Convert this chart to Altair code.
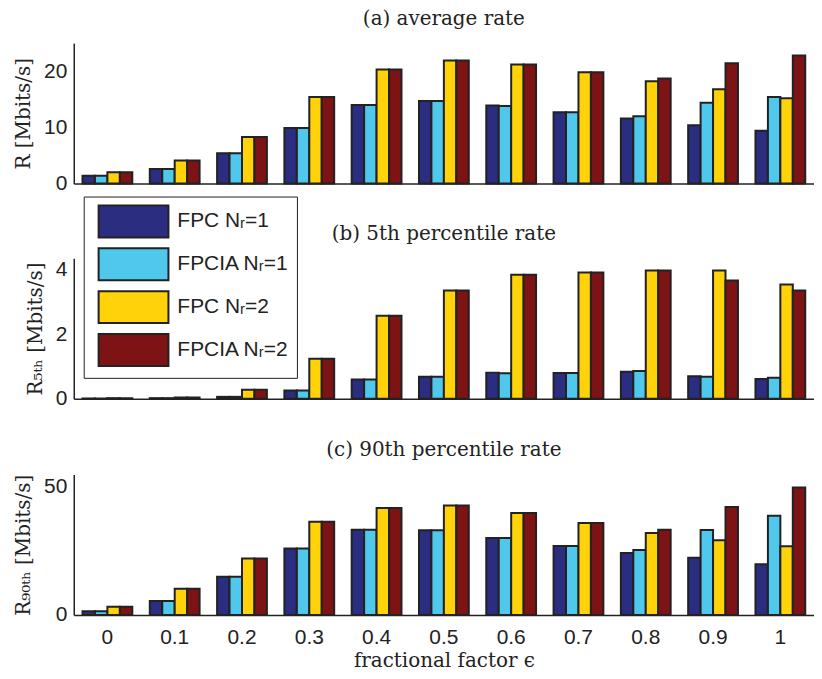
import altair as alt
import pandas as pd

eps_labels = ["0", "0.1", "0.2", "0.3", "0.4", "0.5", "0.6", "0.7", "0.8", "0.9", "1"]
series_names = ["FPC Nᵣ=1", "FPCIA Nᵣ=1", "FPC Nᵣ=2", "FPCIA Nᵣ=2"]
series_colors = ["#2B2D80", "#50C8EC", "#FFD20A", "#7D1315"]

# (a) average rate
avg_fpc1 = [1.4, 2.6, 5.4, 9.9, 14.0, 14.7, 13.9, 12.7, 11.6, 10.4, 9.4]
avg_fpcia1 = [1.4, 2.6, 5.4, 9.9, 14.0, 14.7, 13.8, 12.7, 12.0, 14.4, 15.4]
avg_fpc2 = [2.0, 4.1, 8.3, 15.4, 20.3, 21.9, 21.2, 19.8, 18.2, 16.8, 15.2]
avg_fpcia2 = [2.0, 4.1, 8.3, 15.4, 20.3, 21.9, 21.2, 19.8, 18.7, 21.4, 22.8]

# (b) 5th percentile rate
p5_fpc1 = [0.01, 0.02, 0.06, 0.26, 0.60, 0.68, 0.81, 0.80, 0.84, 0.70, 0.61]
p5_fpcia1 = [0.01, 0.02, 0.06, 0.26, 0.60, 0.68, 0.79, 0.80, 0.86, 0.68, 0.65]
p5_fpc2 = [0.02, 0.04, 0.28, 1.24, 2.57, 3.35, 3.84, 3.91, 3.97, 3.97, 3.54]
p5_fpcia2 = [0.02, 0.04, 0.28, 1.24, 2.57, 3.35, 3.84, 3.91, 3.97, 3.66, 3.35]

# (c) 90th percentile rate
p90_fpc1 = [1.4, 5.4, 14.8, 25.8, 33.1, 32.9, 29.9, 26.8, 24.0, 22.2, 19.7]
p90_fpcia1 = [1.4, 5.4, 14.8, 25.8, 33.1, 32.9, 29.9, 26.8, 25.2, 33.0, 38.5]
p90_fpc2 = [3.2, 10.2, 21.9, 36.2, 41.5, 42.5, 39.6, 35.7, 31.8, 29.0, 26.7]
p90_fpcia2 = [3.2, 10.2, 21.9, 36.2, 41.5, 42.5, 39.6, 35.7, 33.1, 41.9, 49.5]

SERIF = "DejaVu Serif"
SANS = "Liberation Sans"
INK = "#222222"


def long(vals_list):
    rows = []
    for s, vals in zip(series_names, vals_list):
        for e, v in zip(eps_labels, vals):
            rows.append({"eps": e, "series": s, "value": v})
    return pd.DataFrame(rows)


legend = alt.Legend(
    orient="none", legendX=10, legendY=154, title=None,
    symbolType="M-2.19,-1H2.19V1H-2.19Z", symbolSize=1024,
    symbolStrokeColor=INK, symbolStrokeWidth=2, symbolOpacity=1,
    symbolOffset=25, labelOffset=27,
    labelFont=SANS, labelFontSize=21, labelColor=INK, labelLimit=140,
    strokeColor=INK, fillColor="white", padding=8, rowPadding=3,
)

color = alt.Color("series:N", sort=series_names,
                  scale=alt.Scale(domain=series_names, range=series_colors),
                  legend=legend)


def panel(df, title, ytitle, ymax, yticks, show_x):
    if show_x:
        x_axis = alt.Axis(title="fractional factor ϵ", labelAngle=0, ticks=False,
                          labelFont=SANS, labelFontSize=21, labelColor=INK,
                          labelPadding=12, titleFont=SERIF, titleFontSize=20,
                          titleFontWeight="normal", titleColor=INK, titlePadding=3)
    else:
        x_axis = alt.Axis(labels=False, ticks=False, title=None)
    return alt.Chart(df).mark_bar(stroke=INK, strokeWidth=2).encode(
        x=alt.X("eps:N", sort=eps_labels,
                scale=alt.Scale(paddingInner=0.26, paddingOuter=0.13), axis=x_axis),
        xOffset=alt.XOffset("series:N", sort=series_names,
                            scale=alt.Scale(paddingInner=0, paddingOuter=0)),
        y=alt.Y("value:Q", scale=alt.Scale(domain=[0, ymax], nice=False),
                axis=alt.Axis(values=yticks, title=ytitle, grid=False, ticks=False,
                              labelFont=SANS, labelFontSize=21, labelColor=INK,
                              labelPadding=7, titleFont=SERIF, titleFontSize=20,
                              titleFontWeight="normal", titleColor=INK,
                              titlePadding=10)),
        color=color,
    ).properties(
        width=743, height=141,
        title=alt.TitleParams(title, anchor="middle", frame="group", font=SERIF,
                              fontSize=20, fontWeight="normal", color=INK, offset=14),
    )


pa = panel(long([avg_fpc1, avg_fpcia1, avg_fpc2, avg_fpcia2]), "(a) average rate",
           "R [Mbits/s]", 25, [0, 10, 20], False)
pb = panel(long([p5_fpc1, p5_fpcia1, p5_fpc2, p5_fpcia2]), "(b) 5th percentile rate",
           "R₅ₜₕ [Mbits/s]", 4.35, [0, 2, 4], False)
pc = panel(long([p90_fpc1, p90_fpcia1, p90_fpc2, p90_fpcia2]), "(c) 90th percentile rate",
           "R₉₀ₜₕ [Mbits/s]", 54.5, [0, 50], True)

chart = alt.vconcat(pa, pb, pc, spacing=31).properties(
    padding={"left": 5, "top": 0, "right": 0, "bottom": 0}
).configure_view(stroke=None).configure_axis(
    domainColor=INK, domainWidth=1.5
)

chart.save("out.html", embed_options={"renderer": "svg", "actions": False})
